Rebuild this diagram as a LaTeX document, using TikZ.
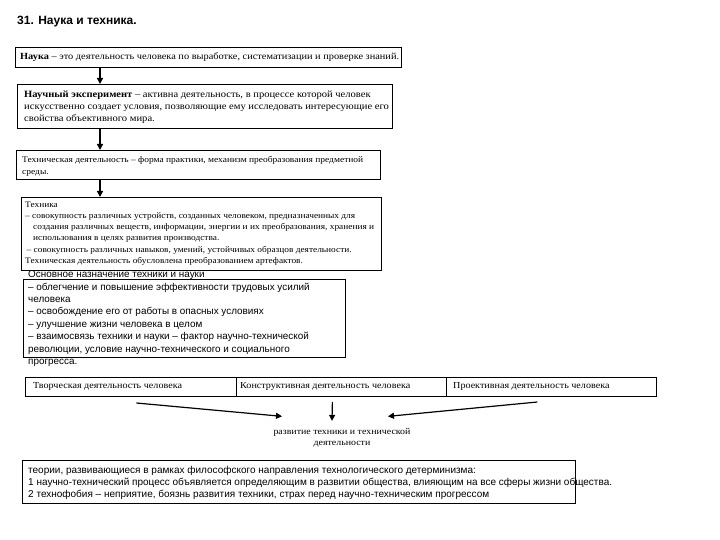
\documentclass[tikz,border=0pt]{standalone}
\usepackage{fontspec}
\setmainfont{Liberation Serif}
\setsansfont{Liberation Sans}
\newfontfamily\wideserif[FakeStretch=1.1]{Liberation Serif}
\usetikzlibrary{arrows.meta}
\begin{document}
\begin{tikzpicture}[x=1pt,y=-1pt,
  box/.style={draw, line width=0.8pt, inner sep=0pt, anchor=north west},
  ser/.style={font=\wideserif\fontsize{9.4}{12}\selectfont, align=left, inner sep=0pt, anchor=north west},
  sern/.style={font=\wideserif\fontsize{8.5}{11.2}\selectfont, align=left, inner sep=0pt, anchor=north west},
  san/.style={font=\sffamily\fontsize{9.9}{12.4}\selectfont, align=left, inner sep=0pt, anchor=north west},
  cell/.style={draw, line width=0.8pt, anchor=north west, minimum height=19pt, inner sep=0pt},
  celltext/.style={font=\wideserif\fontsize{9.2}{11}\selectfont, anchor=west, inner sep=0pt},
  arr/.style={-{Triangle[length=6pt,width=6pt]}, line width=1.4pt}]
\useasboundingbox[fill=white] (0,0) rectangle (720,540);

\node[font=\sffamily\bfseries\fontsize{12}{14}\selectfont, anchor=west, inner sep=0pt] (title) at (17,22) {31. Наука и техника.};

% box 1
\node[box, minimum width=386pt, minimum height=20pt] (b1) at (15,47) {};
\node[ser, anchor=west] (t1) at (20,57) {\textbf{Наука} – это деятельность человека по выработке, систематизации и проверке знаний.};

% box 2
\node[box, minimum width=375pt, minimum height=44pt] (b2) at (17,84) {};
\node[ser, font=\wideserif\fontsize{9.6}{12}\selectfont] (t2) at (24,91) {\textbf{Научный эксперимент} – активна деятельность, в процессе которой человек\\
искусственно создает условия, позволяющие ему исследовать интересующие его\\
свойства объективного мира.};

% box 3
\node[box, minimum width=364pt, minimum height=29pt] (b3) at (16,150) {};
\node[sern, font=\wideserif\fontsize{8.6}{12}\selectfont] (t3) at (22,156) {Техническая деятельность – форма практики, механизм преобразования предметной\\
среды.};

% box 4
\node[box, minimum width=360pt, minimum height=73pt] (b4) at (21,197) {};
\node[sern] (t4) at (25,201.5) {Техника\\
– совокупность различных устройств, созданных человеком, предназначенных для\\
\hspace*{8pt}создания различных веществ, информации, энергии и их преобразования, хранения и\\
\hspace*{8pt}использования в целях развития производства.\\
\hspace*{1.5pt}– совокупность различных навыков, умений, устойчивых образцов деятельности.\\
Техническая деятельность обусловлена преобразованием артефактов.};

% box 5
\node[box, minimum width=322pt, minimum height=78pt] (b5) at (23,279) {};
\node[san] (t5) at (28,270.5) {Основное назначение техники и науки\\
– облегчение и повышение эффективности трудовых усилий\\
человека\\
– освобождение его от работы в опасных условиях\\
– улучшение жизни человека в целом\\
– взаимосвязь техники и науки – фактор научно-технической\\
революции, условие научно-технического и социального\\
прогресса.};

% arrows between column boxes
\coordinate (ax) at (100,0);
\draw[arr] (b1.south -| ax) -- (b2.north -| ax);
\draw[arr] (b2.south -| ax) -- (b3.north -| ax);
\draw[arr] (b3.south -| ax) -- (b4.north -| ax);

% row of three cells
\node[cell, minimum width=211pt] (c1) at (25,377) {};
\node[cell, minimum width=210pt] (c2) at (236,377) {};
\node[cell, minimum width=210pt] (c3) at (446,377) {};
\node[celltext] (ct1) at (33,386.5) {Творческая деятельность человека};
\node[celltext] (ct2) at (240,386.5) {Конструктивная деятельность человека};
\node[celltext] (ct3) at (453,386.5) {Проективная деятельность человека};

\node[font=\wideserif\fontsize{9}{11}\selectfont, align=center, inner sep=0pt] (dev) at (342,437.5) {развитие техники и технической\\деятельности};

\draw[arr, line width=1.2pt] ([shift={(5.5,26)}]c1.north) -- ([shift={(-60,-11.5)}]dev.north);
\draw[arr, line width=1.2pt] ([shift={(-9,25)}]c2.north) -- ([shift={(-10,-7)}]dev.north);
\draw[arr, line width=1.2pt] ([shift={(-14,25)}]c3.north) -- ([shift={(46,-11.5)}]dev.north);

% bottom box
\node[box, minimum width=553pt, minimum height=43pt] (b6) at (22,460) {};
\node[san, font=\sffamily\fontsize{10}{12}\selectfont] (t6) at (28,466.5) {теории, развивающиеся в рамках философского направления технологического детерминизма:\\
1 научно-технический процесс объявляется определяющим в развитии общества, влияющим на все сферы жизни общества.\\
2 технофобия – неприятие, боязнь развития техники, страх перед научно-техническим прогрессом};
\end{tikzpicture}
\end{document}
